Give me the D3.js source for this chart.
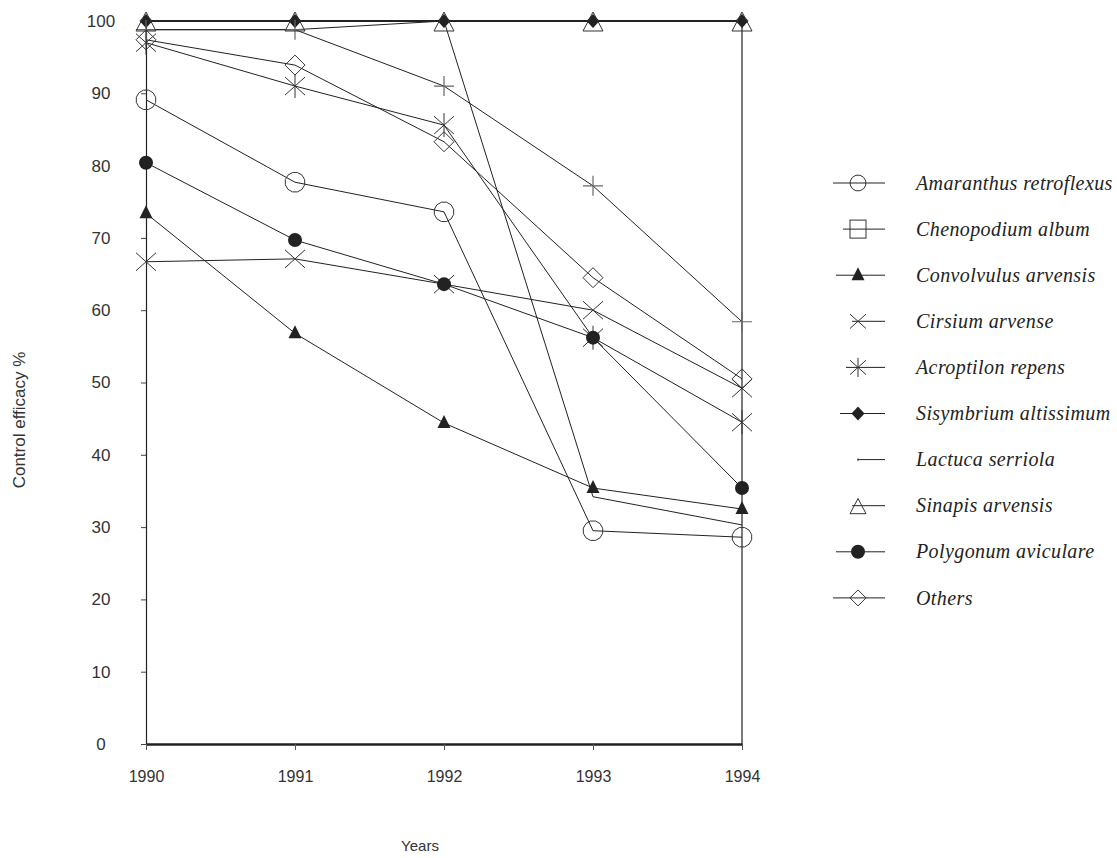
<!DOCTYPE html>
<html>
<head>
<meta charset="utf-8">
<script src="https://cdn.jsdelivr.net/npm/d3@7/dist/d3.min.js"></script>
<style>
  html, body { margin: 0; padding: 0; background: #fff; }
  svg { display: block; }
</style>
</head>
<body>
<svg id="chart" width="1117" height="858"></svg>
<script>
// ---- data ----
const years = ["1990", "1991", "1992", "1993", "1994"];
const yTicks = [0, 10, 20, 30, 40, 50, 60, 70, 80, 90, 100];

const amaranthus  = [89.1, 77.7, 73.6, 29.5, 28.6];
const chenopodium = [98.8, 98.8, 100, 34.2, 30.3];
const convolvulus = [73.4, 56.8, 44.4, 35.4, 32.5];
const cirsium     = [66.7, 67.1, 63.6, 60.0, 49.2];
const acroptilon  = [97.0, 91.0, 85.6, 56.2, 44.5];
const sisymbrium  = [100, 100, 100, 100, 100];
const lactuca     = [98.8, 98.8, 91.0, 77.2, 58.4];
const sinapis     = [100, 100, 100, 100, 100];
const polygonum   = [80.4, 69.7, 63.6, 56.2, 35.4];
const others      = [97.4, 93.9, 83.3, 64.5, 50.5];

const seriesNames = ["Amaranthus retroflexus", "Chenopodium album", "Convolvulus arvensis",
  "Cirsium arvense", "Acroptilon repens", "Sisymbrium altissimum", "Lactuca serriola",
  "Sinapis arvensis", "Polygonum aviculare", "Others"];
const seriesValues = [amaranthus, chenopodium, convolvulus, cirsium, acroptilon,
  sisymbrium, lactuca, sinapis, polygonum, others];
const seriesMarkers = ["octagon", "square", "triFilled", "x", "asterisk",
  "diamondFilled", "plus", "triOpen", "circleFilled", "diamondOpen"];
const markersInPlot = [true, false, true, true, true, true, true, true, true, true];

(function () {
// ---- layout / style ----
const svg = d3.select("#chart");
const pLeft = 146, pRight = 742, pTop = 21, pBottom = 744;
const x = d3.scalePoint().domain(years).range([pLeft, pRight]);
const y = d3.scaleLinear().domain([0, 100]).range([pBottom, pTop]);
const ink = "#222";
const sans = "'Liberation Sans', Arial, sans-serif";
const legendLineStart = [833, 843, 836, 852, 846, 840, 858, 852, 836, 833];

function drawMarker(g, type, cx, cy, legend) {
  const s = g.append("g").attr("transform", `translate(${cx},${cy})`);
  const k = legend ? 0.8 : 1;
  switch (type) {
    case "octagon": {
      const r = 10 * k, pts = [];
      for (let i = 0; i < 12; i++) {
        const a = Math.PI * 2 * i / 12 + Math.PI / 12;
        pts.push([r * Math.cos(a), r * Math.sin(a)]);
      }
      s.append("polygon").attr("points", pts.map(p => p.join(",")).join(" "))
        .attr("fill", "none").attr("stroke", "#333").attr("stroke-width", 1);
      break;
    }
    case "square":
      s.append("rect").attr("x", -8).attr("y", -9).attr("width", 16).attr("height", 18)
        .attr("fill", "none").attr("stroke", "#333").attr("stroke-width", 1);
      break;
    case "triFilled":
      s.append("path").attr("d", "M0,-8 L6.5,5 L-6.5,5 Z").attr("fill", ink);
      break;
    case "x":
      s.append("path").attr("d", `M${-10*k},${-9*k} L${10*k},${9*k} M${-10*k},${9*k} L${10*k},${-9*k}`)
        .attr("stroke", "#333").attr("stroke-width", 1).attr("fill", "none");
      break;
    case "asterisk":
      s.append("path").attr("d", `M${-10*k},${-9*k} L${10*k},${9*k} M${-10*k},${9*k} L${10*k},${-9*k} M0,${-12*k} L0,${12*k}`)
        .attr("stroke", "#333").attr("stroke-width", 1).attr("fill", "none");
      break;
    case "diamondFilled":
      s.append("path").attr("d", "M0,-7 L6.5,0 L0,7 L-6.5,0 Z").attr("fill", ink);
      break;
    case "plus":
      if (legend) {
        s.append("path").attr("d", "M-1,0 L2,0 M0,-1.5 L0,1.5").attr("stroke", "#555").attr("stroke-width", 1);
      } else {
        s.append("path").attr("d", "M-10,0 L10,0 M0,-10 L0,10")
          .attr("stroke", "#666").attr("stroke-width", 1.2).attr("fill", "none");
      }
      break;
    case "triOpen":
      s.append("path").attr("d", `M0,${-9*k} L${10*k},${10*k} L${-10*k},${10*k} Z`)
        .attr("fill", "none").attr("stroke", "#333").attr("stroke-width", 1);
      break;
    case "circleFilled":
      s.append("circle").attr("r", 7).attr("fill", ink);
      break;
    case "diamondOpen":
      s.append("path").attr("d", `M0,${-10*k} L${10*k},0 L0,${10*k} L${-10*k},0 Z`)
        .attr("fill", "none").attr("stroke", "#333").attr("stroke-width", 1);
      break;
  }
}

// ---- axes ----
const yAxis = d3.axisLeft(y).tickValues(yTicks).tickSize(5).tickSizeOuter(0).tickFormat(d => d);
const gy = svg.append("g").attr("transform", `translate(${pLeft},0)`).call(yAxis);
gy.select(".domain").attr("stroke", ink).attr("stroke-width", 1.2);
gy.selectAll(".tick line").attr("stroke", "#444");
gy.selectAll(".tick text").attr("x", -45).attr("text-anchor", "middle")
  .attr("font-family", sans).attr("font-size", 17).attr("fill", "#333");

const xAxis = d3.axisBottom(x).tickSize(6).tickSizeOuter(0);
const gx = svg.append("g").attr("transform", `translate(0,${pBottom})`).call(xAxis);
gx.select(".domain").attr("stroke", ink).attr("stroke-width", 2.6);
gx.selectAll(".tick line").attr("stroke", "#555");
gx.selectAll(".tick text").attr("y", 27)
  .attr("font-family", sans).attr("font-size", 16).attr("fill", "#333");

// right frame line
svg.append("line").attr("x1", pRight).attr("x2", pRight).attr("y1", y(100)).attr("y2", y(0))
  .attr("stroke", ink).attr("stroke-width", 1.2);

// axis titles
svg.append("text").attr("x", 420).attr("y", 851).attr("text-anchor", "middle")
  .attr("font-family", sans).attr("font-size", 15).attr("fill", "#333")
  .text("Years");
svg.append("text").attr("transform", "translate(25,420) rotate(-90)").attr("text-anchor", "middle")
  .attr("font-family", sans).attr("font-size", 17).attr("fill", "#333")
  .text("Control efficacy %");

// ---- series ----
const line = d3.line().x((d, i) => x(years[i])).y(d => y(d));
const plot = svg.append("g");
seriesValues.forEach((vals, k) => {
  plot.append("path").datum(vals).attr("d", line)
    .attr("fill", "none").attr("stroke", ink)
    .attr("stroke-width", (k === 5 || k === 7) ? 2 : 1);
});
seriesValues.forEach((vals, k) => {
  if (!markersInPlot[k]) return;
  vals.forEach((v, i) => drawMarker(plot, seriesMarkers[k], x(years[i]), y(v), false));
});

// ---- legend ----
const lg = svg.append("g");
seriesNames.forEach((name, k) => {
  const ry = 183 + k * 46.1;
  lg.append("line").attr("x1", legendLineStart[k]).attr("x2", 885).attr("y1", ry).attr("y2", ry)
    .attr("stroke", ink).attr("stroke-width", 1);
  drawMarker(lg, seriesMarkers[k], 858, ry, true);
  lg.append("text").attr("x", 916).attr("y", ry).attr("dy", "0.33em")
    .attr("font-family", "'Liberation Serif', 'DejaVu Serif', serif").attr("font-style", "italic")
    .attr("font-size", 20).attr("letter-spacing", 0.4).attr("fill", "#222").text(name);
});
})();
</script>
</body>
</html>
